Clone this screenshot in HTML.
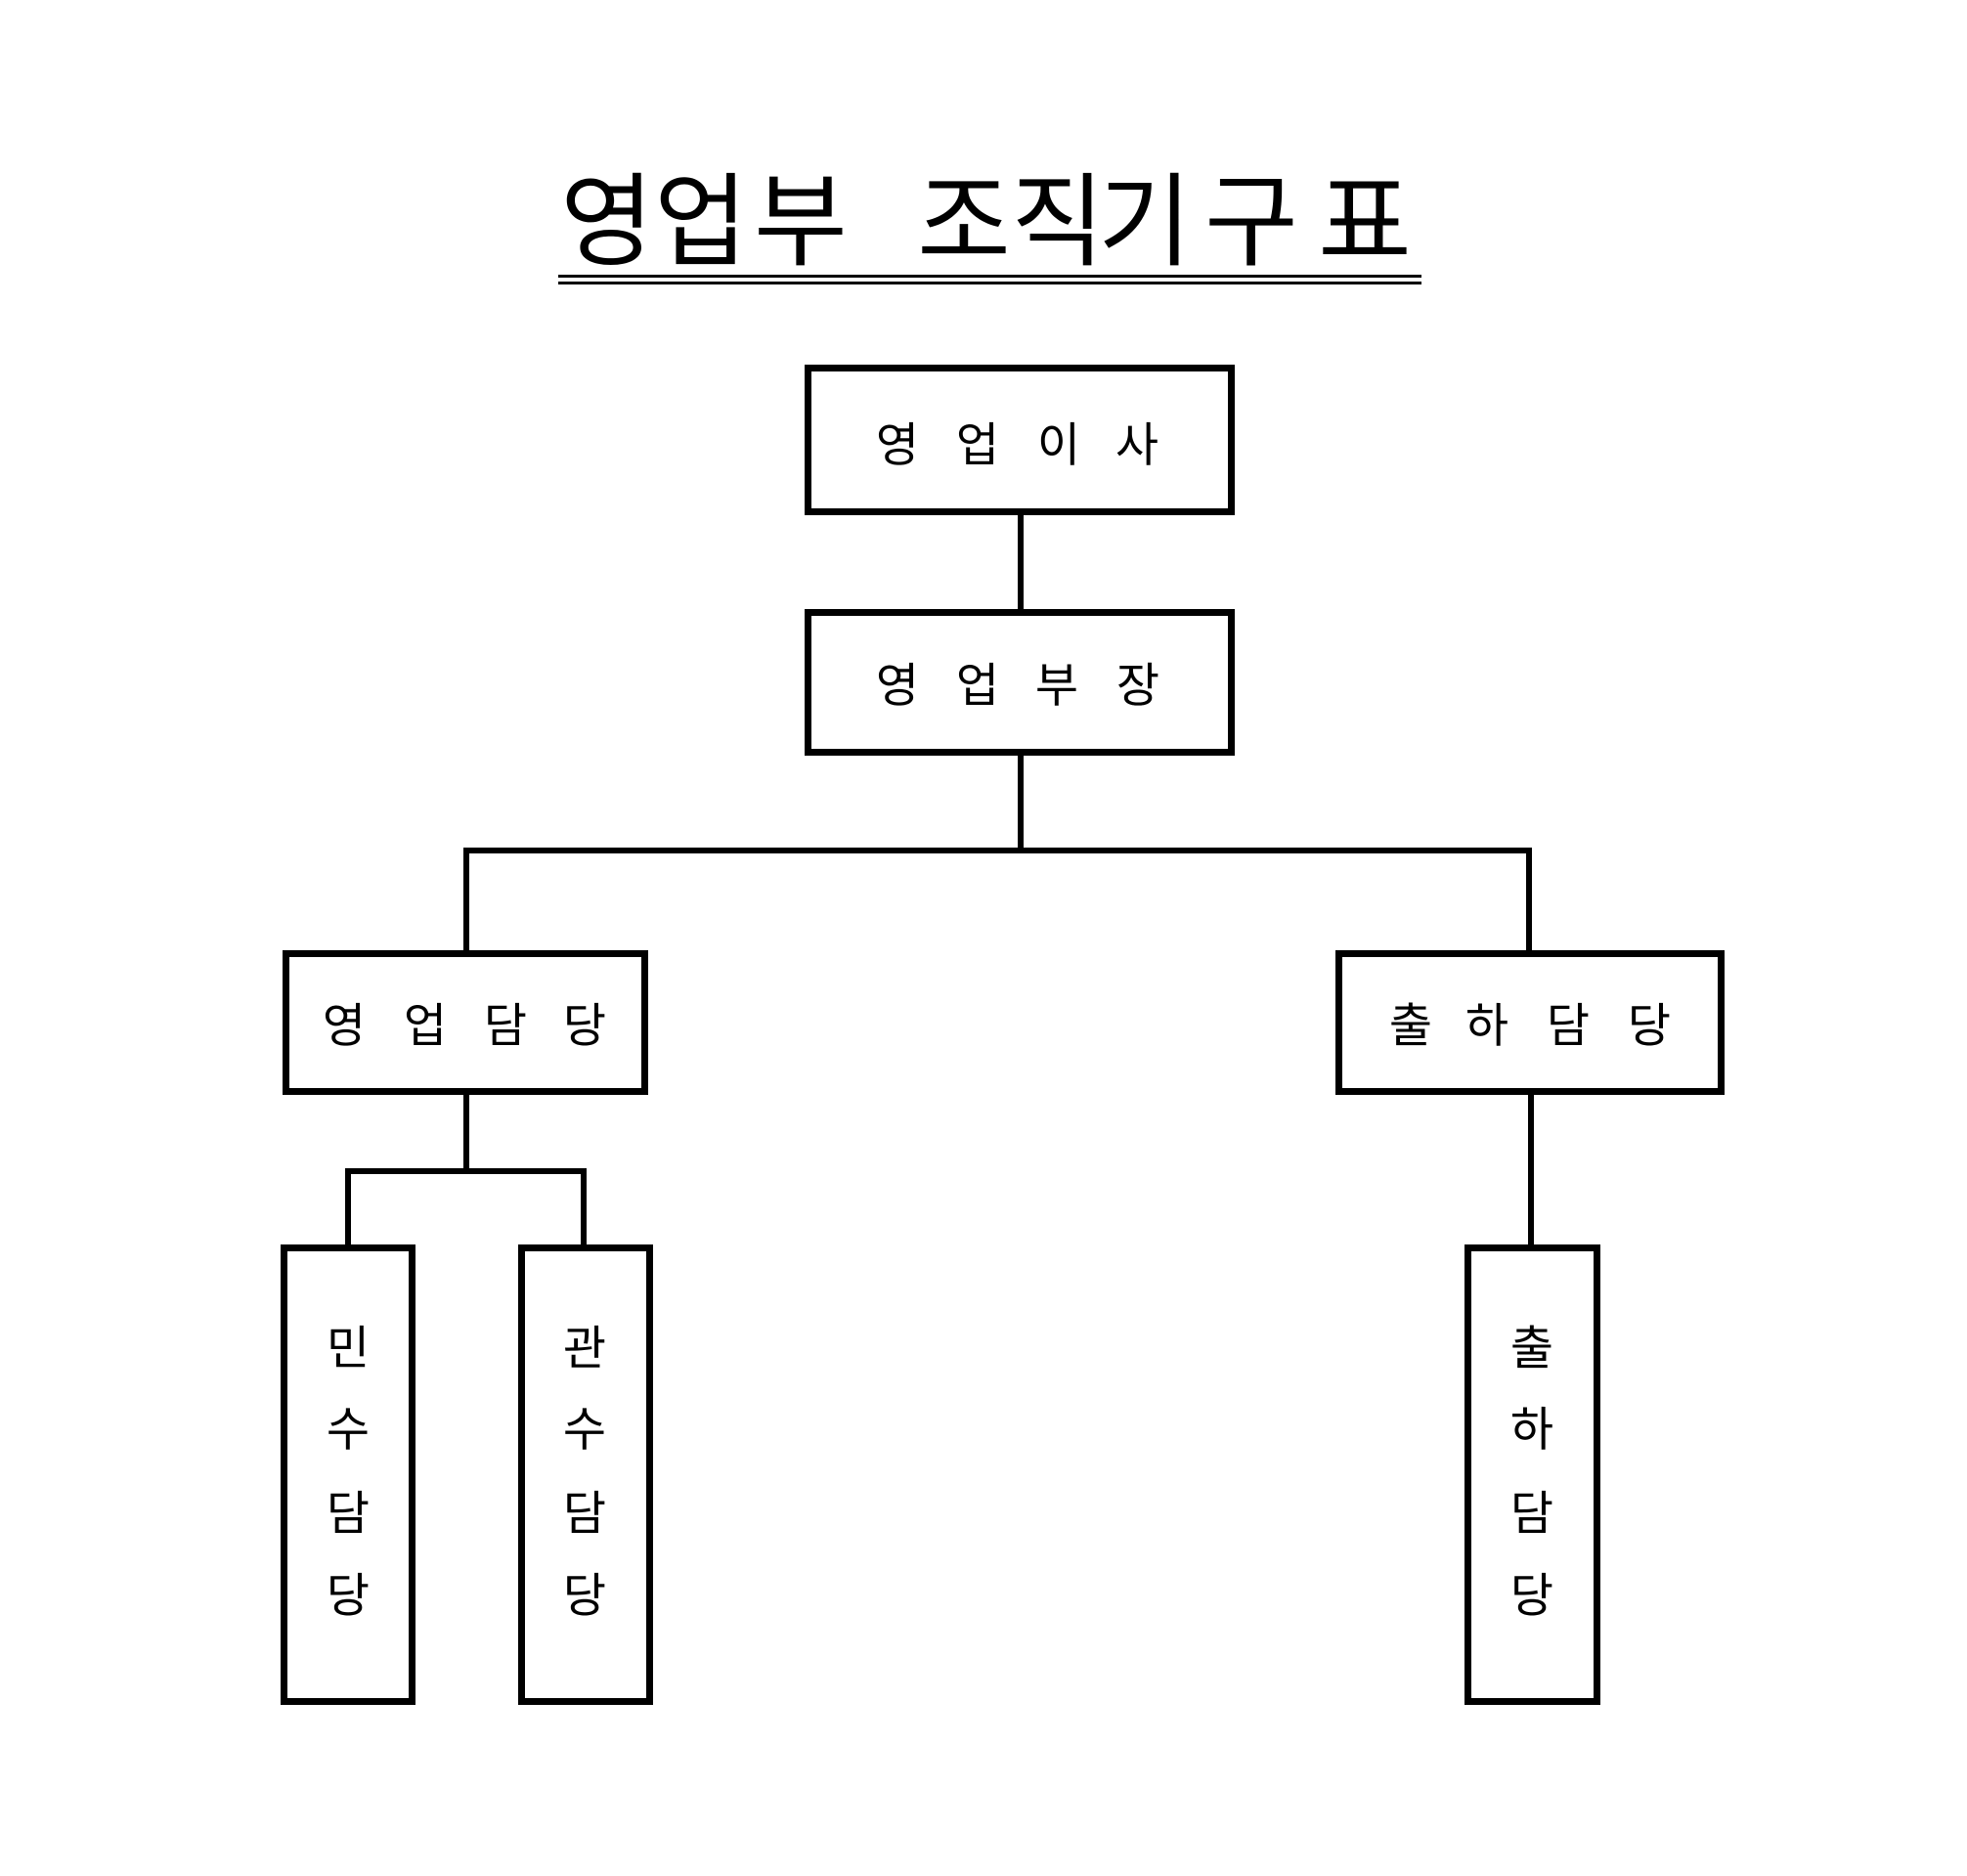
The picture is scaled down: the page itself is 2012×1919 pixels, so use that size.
<!DOCTYPE html>
<html><head><meta charset="utf-8"><style>
html,body{margin:0;padding:0;background:#fff;}
svg{display:block;}
text{font-family:"Liberation Sans","Noto Sans CJK KR",sans-serif;fill:#000;}
.t{font-family:"Liberation Serif","Noto Serif CJK SC",serif;font-size:104px;}
.l{font-size:48px;}
</style></head><body>
<svg width="2012" height="1919" viewBox="0 0 2012 1919" xmlns="http://www.w3.org/2000/svg">
<g class="t" text-anchor="middle" dominant-baseline="central">
<text x="621" y="228">영</text><text x="717" y="228">업</text><text x="819" y="228">부</text>
<text x="986" y="228">조</text><text x="1082" y="228">직</text><text x="1171" y="228">기</text>
<text x="1280" y="228">구</text><text x="1396" y="228">표</text>
</g>
<rect x="571" y="281" width="883" height="3" fill="#000"/>
<rect x="571" y="288" width="883" height="3" fill="#000"/>
<g fill="none" stroke="#000" stroke-width="7">
<rect x="826.5" y="376.5" width="433" height="147"/>
<rect x="826.5" y="626.5" width="433" height="143"/>
<rect x="292.5" y="975.5" width="367" height="141"/>
<rect x="1369.5" y="975.5" width="391" height="141"/>
<rect x="290.5" y="1276.5" width="131" height="464"/>
<rect x="533.5" y="1276.5" width="131" height="464"/>
<rect x="1501.5" y="1276.5" width="132" height="464"/>
</g>
<g fill="none" stroke="#000" stroke-width="6">
<line x1="1044" y1="527" x2="1044" y2="623"/>
<line x1="1044" y1="773" x2="1044" y2="870"/>
<polyline points="477,973 477,870 1564,870 1564,973"/>
<line x1="477" y1="1120" x2="477" y2="1198"/>
<polyline points="356,1274 356,1198 597,1198 597,1274"/>
<line x1="1566" y1="1120" x2="1566" y2="1274"/>
</g>
<g class="l" text-anchor="middle" dominant-baseline="central">
<text x="918" y="456">영</text><text x="1000" y="456">업</text><text x="1083" y="456">이</text><text x="1163" y="456">사</text>
<text x="918" y="702">영</text><text x="1000" y="702">업</text><text x="1081" y="702">부</text><text x="1164" y="702">장</text>
<text x="352" y="1050">영</text><text x="435" y="1050">업</text><text x="517" y="1050">담</text><text x="598" y="1050">당</text>
<text x="1443" y="1050">출</text><text x="1521" y="1050">하</text><text x="1604" y="1050">담</text><text x="1687" y="1050">당</text>
<text x="356" y="1380">민</text><text x="356" y="1463">수</text><text x="356" y="1549">담</text><text x="356" y="1633">당</text>
<text x="598" y="1380">관</text><text x="598" y="1463">수</text><text x="598" y="1549">담</text><text x="598" y="1633">당</text>
<text x="1567" y="1380">출</text><text x="1567" y="1463">하</text><text x="1567" y="1549">담</text><text x="1567" y="1633">당</text>
</g>
</svg>
</body></html>
